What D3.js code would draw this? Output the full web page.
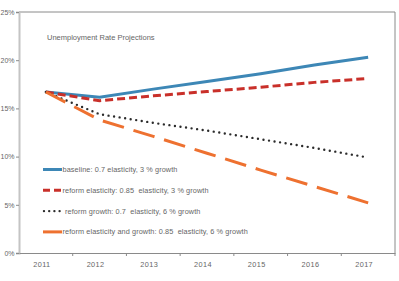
<!DOCTYPE html>
<html>
<head>
<meta charset="utf-8">
<script src="https://cdn.jsdelivr.net/npm/d3@7"></script>
<style>
  body { margin: 0; background: #fff; }
  text { font-family: "Liberation Sans", Arial, sans-serif; fill: #666; }
</style>
</head>
<body>
<svg id="chart"></svg>
<script>
// data
var years = ["2011", "2012", "2013", "2014", "2015", "2016", "2017"];
var baseline = [16.7, 16.15, 17.0, 17.8, 18.6, 19.5, 20.3];
var reformElasticity = [16.7, 15.8, 16.3, 16.75, 17.2, 17.7, 18.1];
var reformGrowth = [16.7, 14.4, 13.5, 12.7, 11.8, 10.9, 9.9];
var reformBoth = [16.7, 13.8, 12.1, 10.35, 8.6, 6.9, 5.2];
var yTicks = [0, 5, 10, 15, 20, 25];
var seriesNames = [
    "baseline: 0.7 elasticity, 3 % growth",
    "reform elasticity: 0.85  elasticity, 3 % growth",
    "reform growth: 0.7  elasticity, 6 % growth",
    "reform elasticity and growth: 0.85  elasticity, 6 % growth"
];

// constants
const width = 399;
const height = 281;
const margin = { left: 19, right: 4, top: 12, bottom: 28 };

var svg = d3.select("svg#chart").attr("width", width).attr("height", height);

var x = d3.scaleBand()
    .domain(years)
    .range([margin.left, width - margin.right]);

var y = d3.scaleLinear()
    .domain([0, 25])
    .range([height - margin.bottom, margin.top]);

var styles = [
    { color: "#3d87b6", w: 3, dash: null, cap: "butt" },
    { color: "#c9302a", w: 3, dash: "8,4", cap: "butt" },
    { color: "#2b2b2b", w: 2.4, dash: "0,5.6", cap: "round" },
    { color: "#ee7130", w: 3, dash: "22,10", cap: "butt" }
];
var allSeries = [baseline, reformElasticity, reformGrowth, reformBoth];

// frame (top + right)
svg.append("line")
    .attr("x1", margin.left).attr("x2", width - margin.right)
    .attr("y1", y(25)).attr("y2", y(25))
    .attr("stroke", "#8a8a8a").attr("stroke-width", 1);
svg.append("line")
    .attr("x1", width - margin.right).attr("x2", width - margin.right)
    .attr("y1", y(25)).attr("y2", y(0))
    .attr("stroke", "#8a8a8a").attr("stroke-width", 1);

// y axis
var yAxis = svg.append("g")
    .attr("transform", "translate(" + margin.left + ",0)")
    .call(d3.axisLeft(y).tickValues(yTicks).tickFormat(d => d + "%").tickSize(3).tickPadding(1.5));
yAxis.select(".domain").attr("stroke", "#c4c4c4").attr("stroke-width", 2);
yAxis.selectAll(".tick line").attr("stroke", "#8a8a8a");
yAxis.selectAll("text").style("font-size", "7px").attr("fill", "#777");

// x axis
var xAxis = svg.append("g")
    .attr("transform", "translate(0," + y(0) + ")")
    .call(d3.axisBottom(x).tickSize(0).tickPadding(9).tickSizeOuter(0));
xAxis.select(".domain").attr("stroke", "#8a8a8a");
xAxis.selectAll("text").style("font-size", "7.3px").style("letter-spacing", "0.4px").attr("fill", "#777").attr("dx", -4);

svg.append("g")
    .selectAll("line")
    .data(years)
    .enter().append("line")
    .attr("x1", d => x(d) + x.bandwidth())
    .attr("x2", d => x(d) + x.bandwidth())
    .attr("y1", y(0))
    .attr("y2", y(0) + 3)
    .attr("stroke", "#8a8a8a");

// lines
var line = d3.line()
    .x((d, i) => x(years[i]) + x.bandwidth() / 2)
    .y(d => y(d));

svg.append("g")
    .selectAll("path")
    .data(allSeries)
    .enter().append("path")
    .attr("d", d => line(d))
    .attr("fill", "none")
    .attr("stroke", (d, i) => styles[i].color)
    .attr("stroke-width", (d, i) => styles[i].w)
    .attr("stroke-dasharray", (d, i) => styles[i].dash)
    .attr("stroke-linecap", (d, i) => styles[i].cap);

// title
svg.append("text")
    .attr("x", 47)
    .attr("y", 40)
    .style("font-size", "7.5px")
    .attr("fill", "#555")
    .text("Unemployment Rate Projections");

// legend
var legendDash = ["", "7,4", "0,5.2", ""];
var legend = svg.append("g")
    .selectAll("g")
    .data(seriesNames)
    .enter().append("g")
    .attr("transform", (d, i) => "translate(43," + (169.5 + i * 20.8) + ")");

legend.append("line")
    .attr("x1", (d, i) => i == 2 ? 1 : 0)
    .attr("x2", 19)
    .attr("y1", 0).attr("y2", 0)
    .attr("stroke", (d, i) => styles[i].color)
    .attr("stroke-width", (d, i) => styles[i].w)
    .attr("stroke-dasharray", (d, i) => legendDash[i] || null)
    .attr("stroke-linecap", (d, i) => styles[i].cap);

legend.append("text")
    .attr("x", (d, i) => i == 2 ? 22 : 19.5)
    .attr("y", 2.5)
    .style("font-size", "7.3px")
    .style("letter-spacing", "0.1px")
    .style("white-space", "pre")
    .attr("fill", "#555")
    .text(d => d);
</script>
</body>
</html>
